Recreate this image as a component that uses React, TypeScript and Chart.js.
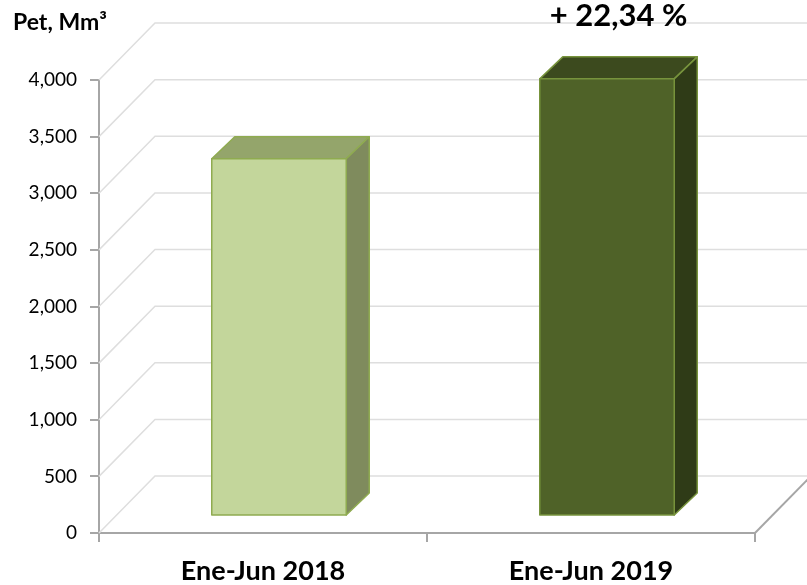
import React, { useEffect, useRef } from "react";
import { Chart, registerables } from "chart.js";

Chart.register(...registerables);

const CATEGORIES = ["Ene-Jun 2018", "Ene-Jun 2019"];
const VALUES = [3155, 3860];
const Y_MIN = 0;
const Y_MAX = 4000;
const Y_STEP = 500;
const AXIS_TITLE = "Pet, Mm³";
const CHANGE_LABEL = "+ 22,34 %";

const FRONT = ["#c3d69b", "#4f6228"];
const TOP = ["#94a56b", "#3c4a1e"];
const SIDE = ["#7f8b5d", "#2f3b17"];
const EDGE = ["#8fab50", "#77933c"];

const FONT = "Lato, 'Open Sans', sans-serif";

// 3D styling
const WALL_DX = 56;
const WALL_DY = 57;
const BAR_OX = 16;
const BAR_OY = 17;
const BAR_DX = 23;
const BAR_DY = 22;

const threeD = {
  id: "threeD",
  beforeDatasetsDraw(chart: any) {
    const { ctx, chartArea, scales } = chart;
    const { left, right, bottom } = chartArea;
    const y = scales.y;
    ctx.save();
    ctx.strokeStyle = "#dedede";
    ctx.lineWidth = 1.5;
    y.ticks.forEach((t: any) => {
      const py = y.getPixelForValue(t.value);
      ctx.beginPath();
      ctx.moveTo(left, py);
      ctx.lineTo(left + WALL_DX, py - WALL_DY);
      ctx.lineTo(right + WALL_DX + 10, py - WALL_DY);
      ctx.stroke();
    });
    ctx.strokeStyle = "#a6a6a6";
    ctx.lineWidth = 2;
    ctx.beginPath();
    ctx.moveTo(right, bottom);
    ctx.lineTo(right + WALL_DX, bottom - WALL_DY);
    ctx.stroke();
    ctx.restore();
  },
  afterDatasetsDraw(chart: any) {
    const { ctx } = chart;
    const meta = chart.getDatasetMeta(0);
    ctx.save();
    ctx.lineWidth = 1.5;
    ctx.lineJoin = "round";
    meta.data.forEach((bar: any, i: number) => {
      const p = bar.getProps(["x", "y", "base", "width"], true);
      const l = p.x - p.width / 2 + BAR_OX;
      const r = p.x + p.width / 2 + BAR_OX;
      const t = p.y - BAR_OY;
      const b = p.base - BAR_OY;
      ctx.strokeStyle = EDGE[i];
      // top
      ctx.beginPath();
      ctx.moveTo(l, t);
      ctx.lineTo(l + BAR_DX, t - BAR_DY);
      ctx.lineTo(r + BAR_DX, t - BAR_DY);
      ctx.lineTo(r, t);
      ctx.closePath();
      ctx.fillStyle = TOP[i];
      ctx.fill();
      ctx.stroke();
      // side
      ctx.beginPath();
      ctx.moveTo(r, t);
      ctx.lineTo(r + BAR_DX, t - BAR_DY);
      ctx.lineTo(r + BAR_DX, b - BAR_DY);
      ctx.lineTo(r, b);
      ctx.closePath();
      ctx.fillStyle = SIDE[i];
      ctx.fill();
      ctx.stroke();
      // front
      ctx.beginPath();
      ctx.rect(l, t, r - l, b - t);
      ctx.fillStyle = FRONT[i];
      ctx.fill();
      ctx.stroke();
    });
    ctx.restore();
  },
  afterDraw(chart: any) {
    const { ctx } = chart;
    const meta = chart.getDatasetMeta(0);
    ctx.save();
    ctx.fillStyle = "#000";
    ctx.textBaseline = "alphabetic";
    ctx.textAlign = "left";
    ctx.font = `bold 23px ${FONT}`;
    ctx.fillText(AXIS_TITLE, 13, 30);
    const last = meta.data[meta.data.length - 1];
    if (last) {
      ctx.textAlign = "center";
      ctx.font = `bold 31px ${FONT}`;
      ctx.fillText(CHANGE_LABEL, last.x + BAR_OX + BAR_DX / 2, 26);
    }
    ctx.restore();
  },
};

export default function App() {
  const ref = useRef<HTMLCanvasElement | null>(null);
  useEffect(() => {
    if (!ref.current) return;
    const chart = new Chart(ref.current, {
      type: "bar",
      data: {
        labels: CATEGORIES,
        datasets: [
          {
            data: VALUES,
            backgroundColor: "rgba(0,0,0,0)",
            borderWidth: 0,
            categoryPercentage: 0.82,
            barPercentage: 0.5,
          },
        ],
      },
      options: {
        animation: false,
        responsive: true,
        maintainAspectRatio: false,
        layout: { padding: { top: 80, right: 52, left: 0, bottom: 0 } },
        plugins: {
          legend: { display: false },
          tooltip: { enabled: false },
        },
        scales: {
          x: {
            afterFit: (s: any) => {
              s.height = 52;
            },
            grid: {
              drawOnChartArea: false,
              drawTicks: true,
              tickLength: 9,
              color: "#a6a6a6",
              lineWidth: 2,
              offset: true,
            },
            border: { display: true, color: "#a6a6a6", width: 2 },
            ticks: {
              color: "#000",
              padding: 13,
              font: { family: FONT, size: 27, weight: "bold" },
            },
          },
          y: {
            min: Y_MIN,
            max: Y_MAX,
            afterFit: (s: any) => {
              s.width = 99;
            },
            grid: {
              drawOnChartArea: false,
              drawTicks: true,
              tickLength: 9,
              color: "#a6a6a6",
              lineWidth: 2,
            },
            border: { display: true, color: "#a6a6a6", width: 2 },
            ticks: {
              stepSize: Y_STEP,
              color: "#000",
              padding: 13,
              font: { family: FONT, size: 19 },
              callback: (v: any) => Number(v).toLocaleString("en-US"),
            },
          },
        },
      },
      plugins: [threeD],
    });
    return () => chart.destroy();
  }, []);
  return (
    <div style={{ position: "fixed", left: 0, top: 0, width: 807, height: 585, background: "#fff" }}>
      <canvas ref={ref} />
    </div>
  );
}
